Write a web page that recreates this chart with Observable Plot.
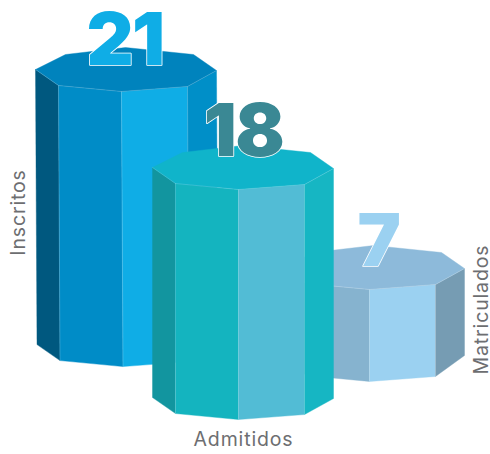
<!DOCTYPE html>
<html lang="es">
<head>
<meta charset="utf-8">
<style>
html,body{margin:0;padding:0;background:#fff}
svg{display:block}
g[font-size="19.5"]{letter-spacing:.85px}
g[font-size="73"]{letter-spacing:-1.5px}
</style>
<script src="https://cdn.jsdelivr.net/npm/d3@7"></script>
<script src="https://cdn.jsdelivr.net/npm/@observablehq/plot@0.6"></script>
</head>
<body>
<div id="chart"></div>
<script>
// Data
const categories = ["Inscritos", "Admitidos", "Matriculados"];
const values = [21, 18, 7];

// Colours per column: top, left wall, front-left, front-right, right wall
const topColors = ["#0083BD", "#10B4CA", "#8DBADA"];
const wallColors = [
  ["#00587F", "#008CC7", "#0FADE6", "#008FC8"],
  ["#12959F", "#14B4BF", "#52BCD5", "#16B6C3"],
  ["#86B3CF", "#86B3CF", "#9BD1F1", "#769CB3"]
];
const numberColors = ["#0FADE6", "#3A8894", "#9BD1F1"];
const labelColor = "#6D6E71";

// Octagonal prism profile (drawing units), shared by all columns
const rimX = [0, 30, 90, 158, 181, 152, 86, 23];
const rimY = [0, -15, -22, -15, 1, 17, 22, 16];
// Column layout (drawing units)
const columnLeft = [35, 152, 283];
const columnTop = [69, 167, 267];
const unitsPerValue = [13.1, 12.78, 13.14];
const baseLean = [1.5, 0, 0];
const baseRightCorner = [0, 0, -5];
const drawOrder = [0, 2, 1];

function prism(i) {
  const h = values[i] * unitsPerValue[i];
  const top = rimX.map((rx, k) => ({x: columnLeft[i] + rx, y: columnTop[i] + rimY[k]}));
  const base = rimX.map((rx, k) => ({
    x: columnLeft[i] + rx + baseLean[i],
    y: columnTop[i] + rimY[k] + h + (k === 4 ? baseRightCorner[i] : 0)
  }));
  const walls = [[0, 7], [7, 6], [6, 5], [5, 4]];
  const rows = [];
  walls.forEach(([a, b], w) => {
    for (const p of [top[a], top[b], base[b], base[a], top[a]]) {
      rows.push({...p, z: `w${w}`, color: wallColors[i][w]});
    }
  });
  for (const p of [...top, top[0]]) rows.push({...p, z: "top", color: topColors[i]});
  const seams = [];
  [0, 7, 6, 5, 4].forEach(k => seams.push({...top[k], z: "rim"}));
  [7, 6, 5].forEach(k => { seams.push({...top[k], z: `v${k}`}); seams.push({...base[k], z: `v${k}`}); });
  return {rows, seams};
}

const marks = drawOrder.flatMap(i => {
  const {rows, seams} = prism(i);
  return [
    Plot.line(rows, {x: "x", y: "y", z: "z", fill: "color", stroke: "color", strokeWidth: 0.4, curve: "linear"}),
    Plot.line(seams, {x: "x", y: "y", z: "z", stroke: "#fff", strokeOpacity: 0.22, strokeWidth: 0.8, curve: "linear"})
  ];
});

const font = "Inter, 'Noto Sans', sans-serif";
const numberRows = values.map((v, i) => ({
  text: String(v),
  x: [124.5, 243, 378][i],
  y: [41, 132, 242][i],
  color: numberColors[i]
}));
const labelRows = [
  {text: categories[0], x: 18, y: 212, rotate: -90},
  {text: categories[1], x: 243, y: 439, rotate: 0},
  {text: categories[2], x: 481, y: 309, rotate: -90}
];

marks.push(
  Plot.text(numberRows, {
    x: "x", y: "y", text: "text", fill: "color",
    stroke: "#fff", strokeWidth: 1.6, paintOrder: "stroke",
    fontFamily: font, fontWeight: 900, fontSize: 73, textAnchor: "middle"
  }),
  Plot.text(labelRows, {
    x: "x", y: "y", text: "text", rotate: "rotate",
    fill: labelColor, fontFamily: font, fontWeight: 400, fontSize: 19.5, textAnchor: "middle"
  })
);

document.getElementById("chart").append(Plot.plot({
  width: 490,
  height: 454,
  margin: 0,
  x: {domain: [0, 490], range: [0, 490], axis: null},
  y: {domain: [0, 454], range: [0, 454], axis: null},
  color: {type: "identity"},
  style: {background: "#fff"},
  marks
}));
</script>
</body>
</html>
